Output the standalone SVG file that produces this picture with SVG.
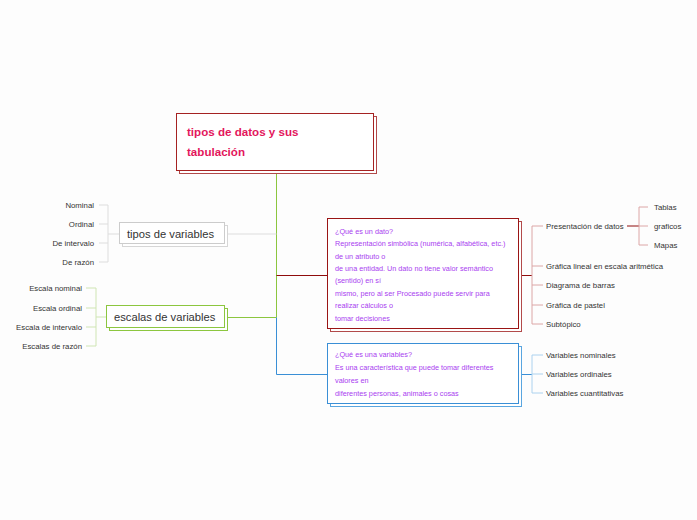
<svg xmlns="http://www.w3.org/2000/svg" width="697" height="520" viewBox="0 0 697 520">
<style>
.t{font-family:"Liberation Sans",Arial,sans-serif;fill:#333}
.s{font-size:7.8px}
.p{font-family:"Liberation Sans",Arial,sans-serif;font-size:7.25px;fill:#a93ef0}
.c{fill:none;stroke-width:1}
</style>
<rect width="697" height="520" fill="#fdfdfd"/>
<g id="connectors" fill="none">
<path d="M276.5 170V317.5" stroke="#8cc63f"/>
<path d="M226 234H276.5" stroke="#dddddd" stroke-width="1.2"/>
<path d="M226 317.5H276.5" stroke="#8cc63f"/>
<path d="M276.5 275.5H327" stroke="#8f0c0c"/>
<path d="M276.5 317.5V374.5H327" stroke="#3a8fd6"/>
<path d="M119 234H108M108 205V262M108 205H99M108 224H99M108 243H99M108 262H99" stroke="#dddddd"/>
<path d="M106 317H96M96 288V346M96 288H86M96 308H86M96 327H86M96 346H86" stroke="#cfe5b3"/>
<path d="M521 275.5H532" stroke="#8f0c0c"/>
<path d="M532 226V324M532 226H543M532 266H543M532 285H543M532 305H543M532 324H543" stroke="#dca6a6"/>
<path d="M627 226H639" stroke="#8f0c0c"/>
<path d="M639 207V245M639 207H648M639 226H648M639 245H648" stroke="#dca6a6"/>
<path d="M521 374.5H532" stroke="#3a8fd6"/>
<path d="M532 355V393M532 355H543M532 374H543M532 393H543" stroke="#acd2ef"/>
</g>
<g id="root">
<rect x="179.5" y="116.5" width="197" height="57" fill="#fff" stroke="#b24a4a"/>
<rect x="176.5" y="113.5" width="197" height="57" fill="#fff" stroke="#a52222"/>
<text class="t" x="187" y="136" font-size="11.6" font-weight="bold" style="fill:#e3165c">tipos de datos y sus</text>
<text class="t" x="187" y="156" font-size="11.6" font-weight="bold" style="fill:#e3165c">tabulación</text>
</g>
<g id="tipos-variables">
<rect x="122.5" y="225.5" width="105" height="21" fill="#fff" stroke="#d6d6d6"/>
<rect x="119.5" y="222.5" width="105" height="21" fill="#fff" stroke="#cccccc"/>
<text class="t" x="127" y="237.5" font-size="11.2">tipos de variables</text>
</g>
<g id="tipos-hijos" class="t s" text-anchor="end">
<text x="94" y="207.5">Nominal</text>
<text x="94" y="226.5">Ordinal</text>
<text x="94" y="245.5">De intervalo</text>
<text x="94" y="264.5">De razón</text>
</g>
<g id="escalas-variables">
<rect x="109.5" y="308.5" width="118" height="22" fill="#fff" stroke="#8cc63f"/>
<rect x="106.5" y="305.5" width="118" height="22" fill="#fff" stroke="#8cc63f"/>
<text class="t" x="114" y="320.5" font-size="11.2">escalas de variables</text>
</g>
<g id="escalas-hijos" class="t s" text-anchor="end">
<text x="82" y="290.5">Escala nominal</text>
<text x="82" y="310.5">Escala ordinal</text>
<text x="82" y="329.5">Escala de intervalo</text>
<text x="82" y="348.5">Escalas de razón</text>
</g>
<g id="dato">
<rect x="330.5" y="221.5" width="191" height="110" fill="#fff" stroke="#b24a4a"/>
<rect x="327.5" y="218.5" width="191" height="110" fill="#fff" stroke="#9a1515"/>
<text class="p" x="335" y="234">¿Qué es un dato?</text>
<text class="p" x="335" y="246">Representación simbólica (numérica, alfabética, etc.)</text>
<text class="p" x="335" y="258.5">de un atributo o</text>
<text class="p" x="335" y="270.5">de una entidad. Un dato no tiene valor semántico</text>
<text class="p" x="335" y="283">(sentido) en sí</text>
<text class="p" x="335" y="295.5">mismo, pero al ser Procesado puede servir para</text>
<text class="p" x="335" y="308">realizar cálculos o</text>
<text class="p" x="335" y="321">tomar decisiones</text>
</g>
<g id="dato-hijos" class="t s">
<text x="546" y="228.5">Presentación de datos</text>
<text x="546" y="268.5">Gráfica lineal en escala aritmética</text>
<text x="546" y="287.5">Diagrama de barras</text>
<text x="546" y="307.5">Gráfica de pastel</text>
<text x="546" y="326.5">Subtópico</text>
</g>
<g id="presentacion-hijos" class="t s">
<text x="654" y="209.5">Tablas</text>
<text x="654" y="228.5">graficos</text>
<text x="654" y="247.5">Mapas</text>
</g>
<g id="variable">
<rect x="330.5" y="346.5" width="191" height="60" fill="#fff" stroke="#5aa6e0"/>
<rect x="327.5" y="343.5" width="191" height="60" fill="#fff" stroke="#3a8fd6"/>
<text class="p" x="335" y="357">¿Qué es una variables?</text>
<text class="p" x="335" y="370">Es una característica que puede tomar diferentes</text>
<text class="p" x="335" y="383">valores en</text>
<text class="p" x="335" y="395.5">diferentes personas, animales o cosas</text>
</g>
<g id="variable-hijos" class="t s">
<text x="546" y="357.5">Variables nominales</text>
<text x="546" y="376.5">Variables ordinales</text>
<text x="546" y="395.5">Variables cuantitativas</text>
</g>
</svg>
